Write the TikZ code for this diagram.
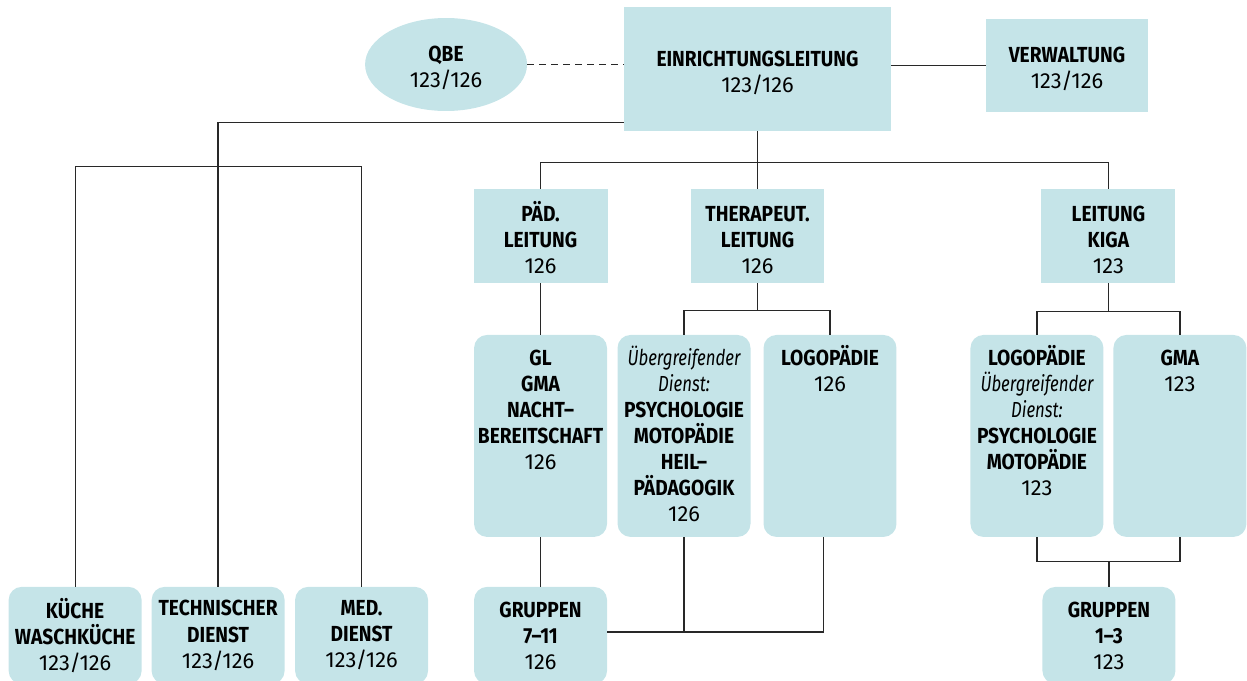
\documentclass[tikz,border=0pt]{standalone}
\usepackage{fontspec}
\setmainfont{Fira Sans}
\newfontfamily\condfont{Fira Sans}[FakeStretch=0.88]
\newfontfamily\slantfont{Fira Sans}[FakeStretch=0.77]
\usetikzlibrary{shapes,arrows,positioning,calc}
\definecolor{boxfill}{RGB}{197,228,232}
\definecolor{linegray}{RGB}{40,40,40}
\newcommand{\titel}[1]{{\condfont\bfseries #1}}
\newcommand{\kopf}[1]{\rule{0pt}{0.45cm}\titel{#1}}
\newcommand{\hinweis}[1]{{\slantfont\itshape #1}}
\newcommand{\oben}[1]{\parbox[t][4.04cm][t]{2.66cm}{\centering\rule{0pt}{0.61cm}#1}}

\begin{document}
\begin{tikzpicture}[node distance=2cm, auto, x=0.02cm, y=-0.02cm,
        font=\fontsize{12.4pt}{14.8pt}\selectfont,
        unit/.style={fill=boxfill, align=center, inner sep=0pt, minimum width=2.68cm, minimum height=1.88cm},
        tallunit/.style={fill=boxfill, rounded corners=0.26cm, inner sep=0pt, minimum width=2.66cm, minimum height=4.04cm},
        lowunit/.style={fill=boxfill, rounded corners=0.26cm, align=center, inner sep=0pt, minimum width=2.66cm, minimum height=1.94cm},
        connector/.style={draw=linegray, line width=0.7pt}]
        \useasboundingbox (0,0) rectangle (1247,680);

        % Define nodes
        \node (einrichtungsleitung) [unit, minimum width=5.34cm, minimum height=2.48cm] at (757.5,69) {\kopf{EINRICHTUNGSLEITUNG}\\123/126};
        \node (qbe) [unit, ellipse, minimum width=3.24cm, minimum height=1.86cm, left of=einrichtungsleitung, node distance=6.23cm, yshift=0.09cm] {\kopf{QBE}\\123/126};
        \node (verwaltung) [unit, minimum width=3.24cm, minimum height=1.86cm, right of=einrichtungsleitung, node distance=6.19cm, yshift=0.07cm] {\kopf{VERWALTUNG}\\123/126};
        \node (therapeut_leitung) [unit, below of=einrichtungsleitung, node distance=3.34cm] {\kopf{THERAPEUT.}\\\titel{LEITUNG}\\126};
        \node (paed_leitung) [unit, left of=therapeut_leitung, node distance=4.34cm] {\kopf{PÄD.}\\\titel{LEITUNG}\\126};
        \node (leitung_kiga) [unit, right of=therapeut_leitung, node distance=7.02cm] {\kopf{LEITUNG}\\\titel{KIGA}\\123};

        \node (gl_gma) [tallunit, below of=paed_leitung, node distance=4cm] {\oben{\titel{GL}\\\titel{GMA}\\\titel{NACHT–}\\\titel{BEREITSCHAFT}\\126}};
        \node (uebergreifend) [tallunit, right of=gl_gma, node distance=2.87cm] {\oben{\hinweis{Übergreifender}\\\hinweis{Dienst:}\\\titel{PSYCHOLOGIE}\\\titel{MOTOPÄDIE}\\\titel{HEIL–}\\\titel{PÄDAGOGIK}\\126}};
        \node (logopaedie) [tallunit, right of=uebergreifend, node distance=2.92cm] {\oben{\titel{LOGOPÄDIE}\\126}};
        \node (kiga_logopaedie) [tallunit, right of=logopaedie, node distance=4.14cm] {\oben{\titel{LOGOPÄDIE}\\\hinweis{Übergreifender}\\\hinweis{Dienst:}\\\titel{PSYCHOLOGIE}\\\titel{MOTOPÄDIE}\\123}};
        \node (kiga_gma) [tallunit, right of=kiga_logopaedie, node distance=2.86cm] {\oben{\titel{GMA}\\123}};

        \node (gruppen_7_11) [lowunit, below of=gl_gma, node distance=3.99cm] {\titel{GRUPPEN}\\\titel{7–11}\\126};
        \node (gruppen_1_3) [lowunit, right of=gruppen_7_11, node distance=11.37cm] {\titel{GRUPPEN}\\\titel{1–3}\\123};
        \node (med_dienst) [lowunit, left of=gruppen_7_11, node distance=3.58cm] {\titel{MED.}\\\titel{DIENST}\\123/126};
        \node (technik) [lowunit, left of=med_dienst, node distance=2.87cm] {\titel{TECHNISCHER}\\\titel{DIENST}\\123/126};
        \node (kueche) [lowunit, left of=technik, node distance=2.86cm] {\titel{KÜCHE}\\\titel{WASCHKÜCHE}\\123/126};
        \coordinate (dienst_bar) at ($(einrichtungsleitung.south)+(0,-0.7cm)$);

        % Draw lines
        \draw[connector, dash pattern=on 0.14cm off 0.1cm] (qbe.east) -- (qbe.east -| einrichtungsleitung.west);
        \draw[connector] (verwaltung.west) -- (verwaltung.west -| einrichtungsleitung.east);
        \draw[connector] ([yshift=0.18cm]einrichtungsleitung.south west) -| (technik.north);
        \draw[connector] (kueche.north) |- (dienst_bar -| med_dienst.north) -- (med_dienst.north);
        \draw[connector] (einrichtungsleitung.south) -- (therapeut_leitung.north);
        \draw[connector] (paed_leitung.north) |- ([yshift=0.52cm]therapeut_leitung.north) -| (leitung_kiga.north);
        \draw[connector] (paed_leitung.south) -- (gl_gma.north);
        \draw[connector] (therapeut_leitung.south) -- ++(0,-0.54cm) coordinate (ther_bar);
        \draw[connector] (uebergreifend.north) |- (ther_bar) -| (logopaedie.north);
        \draw[connector] (leitung_kiga.south) -- ++(0,-0.56cm) coordinate (kiga_bar);
        \draw[connector] (kiga_logopaedie.north) |- (kiga_bar) -| (kiga_gma.north);
        \draw[connector] (gl_gma.south) -- (gruppen_7_11.north);
        \draw[connector] ([yshift=0.07cm]gruppen_7_11.east) coordinate (gruppen_bar) -| ([xshift=-0.13cm]logopaedie.south);
        \draw[connector] (uebergreifend.south) -- (uebergreifend.south |- gruppen_bar);
        \draw[connector] (kiga_logopaedie.south) |- ([yshift=0.5cm]gruppen_1_3.north) -| (kiga_gma.south);
        \draw[connector] (gruppen_1_3.north) -- ++(0,0.5cm);
    \end{tikzpicture}
\end{document}
